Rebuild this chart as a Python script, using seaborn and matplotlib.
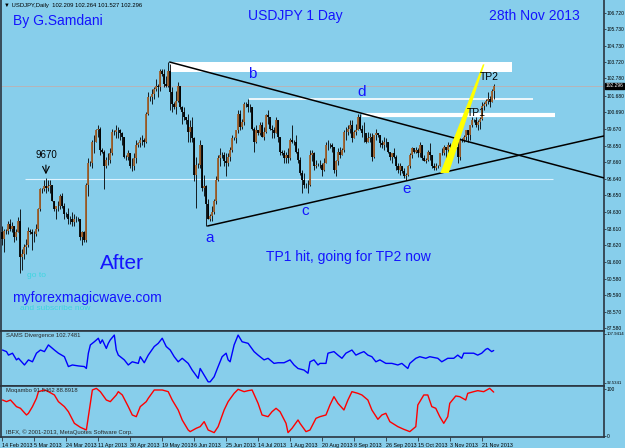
import matplotlib
matplotlib.use("Agg")
import matplotlib.pyplot as plt
import seaborn as sns
import numpy as np
import pandas as pd

# ---------------------------------------------------------------------------
# data (USDJPY daily, one bar per day incl. sunday bars)
# ---------------------------------------------------------------------------
first_open = 93.4
highs = [93.8, 93.6, 93.6, 94.1, 94.2, 94.0, 93.8, 93.6, 94.3, 94.8,
         92.4, 92.7, 93.0, 93.7, 93.6, 93.6, 93.5, 93.9, 94.9, 96.1,
         96.1, 96.6, 96.7, 96.6, 96.6, 96.3, 95.3, 95.0, 95.3, 95.7,
         95.8, 95.2, 94.6, 94.9, 94.4, 94.6, 94.5, 94.4, 94.3, 94.2,
         93.5, 93.5, 96.4, 97.9, 97.7, 99.0, 99.3, 99.7, 99.9, 99.8,
         98.5, 98.4, 98.0, 98.2, 98.5, 99.7, 99.6, 99.9, 99.8, 99.7,
         99.5, 99.2, 98.1, 98.4, 98.2, 97.9, 98.2, 99.0, 98.9, 99.2,
         99.3, 99.1, 100.7, 101.9, 101.7, 102.1, 102.2, 102.7, 102.4, 103.3,
         103.3, 103.3, 102.9, 103.74, 103.6, 102.2, 101.3, 102.0, 102.5, 102.3,
         101.1, 101.0, 100.4, 100.6, 100.2, 100.4, 99.2, 98.0, 97.6, 99.0,
         98.7, 96.9, 96.3, 95.4, 94.5, 95.0, 95.4, 96.8, 98.1, 98.5,
         98.3, 98.3, 98.2, 98.2, 98.6, 99.3, 99.2, 99.6, 100.8, 100.8,
         100.3, 101.3, 101.3, 101.5, 101.2, 101.0, 99.8, 99.9, 99.6, 100.1,
         100.1, 99.8, 100.6, 100.8, 100.2, 99.9, 99.8, 100.4, 100.2, 99.2,
         98.4, 98.4, 98.3, 98.5, 99.1, 99.9, 99.0, 99.3, 98.5, 98.0,
         97.2, 97.0, 96.4, 96.6, 98.4, 98.4, 98.3, 97.8, 97.6, 97.8,
         97.6, 97.9, 98.9, 99.0, 98.8, 98.8, 98.6, 97.8, 98.5, 98.6,
         98.5, 99.6, 99.8, 99.9, 100.2, 100.2, 99.6, 100.0, 100.6, 100.6,
         99.9, 100.1, 99.3, 99.5, 99.4, 99.4, 99.3, 99.7, 99.4, 99.3,
         99.0, 99.2, 99.1, 98.9, 98.3, 98.2, 98.5, 98.1, 97.6, 97.6,
         97.4, 97.3, 97.0, 97.5, 98.2, 98.6, 98.4, 98.6, 98.5, 98.9,
         98.7, 98.1, 97.9, 98.4, 98.8, 98.1, 97.6, 97.6, 97.5, 98.2,
         98.5, 98.7, 98.5, 98.9, 98.8, 98.8, 98.8, 98.8, 99.0, 99.1,
         99.1, 99.3, 99.6, 99.6, 99.9, 100.4, 100.3, 100.4, 100.2, 100.4,
         101.3, 101.3, 101.5, 101.9, 101.7, 102.1, 102.4]
lows = [92.6, 92.2, 93.3, 93.3, 93.5, 93.4, 92.8, 92.9, 93.4, 90.9,
        91.1, 91.8, 92.1, 92.5, 93.3, 92.3, 92.8, 93.2, 93.5, 94.7,
        95.8, 95.9, 95.8, 95.9, 95.8, 95.3, 94.7, 94.2, 94.7, 94.8,
        94.9, 94.2, 94.3, 93.9, 93.9, 93.8, 93.8, 94.0, 94.1, 92.9,
        92.6, 92.8, 92.8, 95.6, 97.4, 97.3, 98.2, 98.9, 99.2, 98.1,
        98.2, 96.0, 97.3, 97.5, 97.6, 98.1, 99.3, 99.1, 99.1, 99.0,
        98.7, 97.9, 97.8, 97.8, 97.3, 97.1, 97.2, 97.6, 98.6, 98.6,
        98.7, 98.6, 98.8, 100.5, 101.4, 101.2, 101.5, 102.0, 101.6, 102.0,
        102.9, 102.2, 102.2, 102.2, 100.8, 100.7, 100.9, 100.6, 101.3, 100.9,
        100.0, 100.2, 100.0, 98.9, 98.9, 98.9, 96.5, 94.9, 97.3, 97.3,
        95.9, 95.6, 93.78, 94.2, 94.1, 94.1, 94.5, 95.1, 96.5, 97.4,
        97.9, 97.4, 96.8, 97.4, 97.7, 98.3, 99.0, 98.8, 99.4, 99.6,
        99.7, 99.9, 101.0, 100.7, 100.7, 99.6, 98.3, 98.8, 99.3, 99.3,
        99.2, 99.0, 99.4, 100.0, 99.6, 99.1, 99.1, 99.4, 98.9, 98.1,
        98.1, 97.6, 97.6, 97.6, 97.8, 98.8, 98.7, 98.2, 97.6, 96.9,
        95.8, 96.1, 96.1, 95.8, 96.2, 97.7, 97.2, 97.3, 97.4, 97.3,
        96.8, 97.1, 97.6, 98.4, 98.5, 98.3, 97.0, 96.8, 97.5, 97.9,
        98.1, 98.3, 99.0, 99.3, 99.4, 98.9, 99.1, 99.3, 99.6, 99.6,
        99.2, 98.9, 98.8, 98.9, 98.9, 97.7, 97.9, 99.0, 99.2, 98.6,
        98.5, 98.4, 98.6, 98.2, 97.8, 97.6, 97.9, 97.2, 97.0, 96.9,
        97.0, 96.7, 96.57, 96.8, 97.3, 97.9, 98.2, 98.2, 98.0, 98.0,
        97.8, 97.7, 97.6, 97.7, 97.8, 97.3, 97.2, 97.2, 97.3, 97.4,
        98.1, 98.1, 97.7, 98.2, 98.5, 98.3, 98.2, 98.5, 97.6, 97.8,
        98.9, 98.9, 99.0, 98.9, 99.0, 99.8, 100.1, 99.8, 99.6, 99.7,
        100.2, 100.8, 101.1, 101.2, 101.0, 101.3, 101.5]
closes = [93.0, 93.5, 93.5, 93.9, 93.6, 93.8, 93.1, 93.4, 94.1, 91.9,
          92.1, 92.5, 92.6, 93.5, 93.4, 93.3, 93.3, 93.6, 94.8, 96.0,
          96.0, 96.2, 96.1, 96.2, 96.3, 95.3, 94.8, 95.0, 95.0, 95.6,
          95.0, 94.5, 94.5, 94.2, 94.2, 94.0, 94.2, 94.2, 94.2, 93.1,
          93.4, 92.9, 96.3, 97.6, 97.6, 98.9, 98.9, 99.6, 99.7, 98.4,
          98.3, 97.4, 97.8, 97.8, 98.2, 99.5, 99.5, 99.6, 99.6, 99.4,
          99.2, 98.0, 98.0, 98.2, 97.4, 97.4, 97.9, 98.7, 98.8, 99.0,
          99.0, 98.9, 100.6, 101.6, 101.6, 101.8, 102.1, 102.3, 102.2, 103.2,
          103.0, 102.4, 102.3, 103.2, 101.9, 101.2, 101.0, 101.4, 102.3, 101.0,
          100.7, 100.4, 100.2, 99.5, 99.8, 99.1, 96.9, 97.5, 97.5, 98.7,
          96.1, 96.2, 95.1, 94.2, 94.4, 94.6, 95.3, 96.6, 97.9, 98.1,
          98.1, 97.7, 97.6, 98.0, 98.4, 99.1, 99.1, 99.6, 100.6, 99.8,
          100.1, 101.2, 101.2, 101.0, 101.0, 99.7, 98.9, 99.6, 99.4, 99.9,
          99.2, 99.5, 100.5, 100.4, 99.7, 99.6, 99.4, 100.2, 99.2, 98.3,
          98.2, 97.9, 98.1, 97.9, 99.0, 98.9, 98.9, 98.3, 97.8, 97.0,
          96.6, 96.3, 96.3, 96.3, 98.1, 98.2, 97.4, 97.5, 97.5, 97.5,
          97.2, 97.6, 98.7, 98.7, 98.7, 98.6, 97.2, 97.7, 98.3, 98.1,
          98.4, 99.5, 99.5, 99.7, 99.9, 99.1, 99.5, 99.6, 100.4, 99.7,
          99.4, 99.4, 98.9, 99.1, 99.2, 98.0, 99.3, 99.4, 99.3, 98.8,
          98.7, 98.9, 98.9, 98.3, 98.0, 98.2, 98.0, 97.4, 97.2, 97.4,
          97.1, 96.8, 96.9, 97.4, 98.1, 98.5, 98.3, 98.4, 98.2, 98.7,
          97.9, 97.7, 97.8, 98.3, 98.1, 97.4, 97.3, 97.4, 97.4, 98.2,
          98.2, 98.6, 98.4, 98.7, 98.6, 98.5, 98.6, 98.6, 98.0, 99.0,
          99.0, 99.2, 99.6, 99.3, 99.9, 100.2, 100.2, 99.9, 100.1, 100.3,
          101.1, 101.2, 101.4, 101.5, 101.3, 102.0, 102.3]
last_price = 102.296

date_ticks = [0, 16, 32, 48, 64, 80, 96, 112, 128, 144, 160, 176, 192, 208, 224, 240]
date_labels = ["14 Feb 2013", "5 Mar 2013", "24 Mar 2013", "11 Apr 2013", "30 Apr 2013",
               "19 May 2013", "6 Jun 2013", "25 Jun 2013", "14 Jul 2013", "1 Aug 2013",
               "20 Aug 2013", "8 Sep 2013", "26 Sep 2013", "15 Oct 2013", "3 Nov 2013",
               "21 Nov 2013"]
price_ticks = [106.72, 105.73, 104.73, 103.72, 102.78, 101.68, 100.69, 99.67, 98.65,
               97.66, 96.64, 95.65, 94.63, 93.61, 92.62, 91.60, 90.58, 89.59, 88.57, 87.58]

# SAMS Divergence (blue)
sams_bar = [0, 2, 3, 5, 7, 8, 11, 13, 15, 17, 19, 21, 23, 26, 28, 31, 33, 35, 38, 41,
            42, 43, 44, 46, 48, 49, 50, 52, 53, 54, 56, 57, 58, 61, 63, 65, 68, 69, 71, 73,
            76, 78, 80, 82, 84, 86, 88, 90, 93, 95, 98, 99, 101, 103, 104, 106, 108, 110, 112, 113,
            114, 116, 118, 120, 123, 126, 128, 131, 133, 136, 138, 141, 144, 146, 148, 151, 153, 154, 156, 158,
            159, 162, 163, 166, 168, 170, 172, 175, 177, 179, 181, 183, 185, 187, 189, 192, 195, 198, 200, 203,
            204, 207, 209, 212, 214, 218, 220, 223, 226, 228, 230, 231, 233, 236, 238, 240, 242, 243, 245, 246]
sams_val = [102.9, 102.4, 101.3, 101.9, 99.8, 100.3, 98.2, 99.8, 99.2, 101.9,
            102.9, 102.4, 104.5, 102.9, 101.9, 100.8, 97.7, 98.2, 97.9, 97.7,
            97.1, 101.9, 104.5, 105.5, 106.6, 105.0, 106.1, 103.4, 105.0, 106.1,
            107.6, 102.9, 101.3, 99.8, 98.2, 99.2, 98.7, 100.8, 98.9, 101.3,
            104.0, 105.0, 106.6, 104.0, 102.9, 100.8, 99.2, 100.3, 98.7, 96.6,
            94.0, 97.1, 95.0, 92.9, 92.9, 94.5, 97.7, 100.8, 101.9, 99.8,
            99.2, 104.5, 107.6, 105.5, 105.0, 102.4, 101.3, 99.8, 100.3, 98.7,
            98.9, 98.9, 99.8, 98.2, 97.1, 96.6, 95.6, 99.2, 99.8, 98.2,
            98.7, 98.7, 101.9, 102.4, 101.3, 100.3, 101.9, 102.9, 101.3, 101.9,
            102.4, 101.3, 100.8, 99.2, 99.8, 98.7, 98.7, 98.2, 98.7, 97.1,
            98.7, 100.3, 100.8, 100.3, 100.8, 100.3, 99.2, 100.3, 100.3, 101.3,
            100.3, 101.9, 101.9, 101.9, 101.3, 101.9, 103.1, 103.4, 102.4, 102.75]

# Moqambo (red)
moq_bar = [0, 2, 4, 7, 9, 12, 13, 15, 17, 18, 21, 23, 26, 28, 31, 33, 36, 39, 42, 43,
           45, 47, 49, 52, 54, 57, 58, 60, 63, 65, 67, 69, 72, 73, 76, 80, 83, 85, 88, 90,
           93, 94, 97, 99, 101, 103, 106, 108, 111, 113, 116, 118, 121, 123, 125, 128, 130, 133, 135, 137,
           139, 142, 143, 145, 148, 149, 152, 154, 157, 159, 162, 164, 166, 168, 171, 173, 175, 178, 180, 183,
           185, 188, 190, 192, 194, 198, 201, 204, 207, 208, 211, 213, 215, 217, 219, 221, 223, 224, 227, 229,
           232, 233, 236, 238, 241, 244, 246]
moq_val = [75.0, 71.6, 75.0, 61.2, 57.7, 43.8, 47.3, 61.2, 78.5, 92.4,
           95.9, 92.4, 85.5, 71.6, 61.2, 50.7, 26.4, 18.1, 12.5, 40.3,
           95.9, 99.3, 92.4, 75.0, 71.6, 85.5, 92.4, 85.5, 61.2, 43.8,
           40.3, 61.2, 71.6, 78.5, 95.9, 95.9, 92.4, 75.0, 54.2, 33.4,
           12.5, 9.1, 16.0, 19.5, 29.9, 12.5, 7.0, 19.5, 54.2, 71.6,
           88.9, 97.3, 92.4, 94.5, 95.9, 68.1, 43.8, 40.3, 50.7, 57.7,
           50.7, 26.4, 7.0, 16.0, 33.4, 26.4, 9.1, 12.5, 36.8, 40.3,
           43.8, 64.6, 82.0, 68.1, 54.2, 75.0, 92.4, 88.9, 85.5, 75.0,
           54.2, 34.8, 43.8, 47.3, 29.9, 19.5, 13.9, 9.1, 19.5, 64.6,
           85.5, 85.5, 61.2, 57.7, 40.3, 26.4, 40.3, 68.1, 83.4, 82.0,
           75.0, 88.9, 92.4, 94.5, 92.4, 99.3, 91.5]

# annotation geometry (bar index, price)
upper_x, upper_y = [83.75, 301.25], [103.74, 96.70]
lower_x, lower_y = [102.75, 301.25], [93.78, 99.25]
yellow_x = [219.25, 223.5, 241.4, 240.6]
yellow_y = [97.0, 97.0, 103.6, 103.6]

# ---------------------------------------------------------------------------
BG = "#87CEEB"
BLUE = "#1414ff"
EDGE = "#2a3540"
AXFS = 3.9   # tiny terminal-style axis font
YFS = 3.5    # right-hand price scale

sns.set_theme(style="ticks", rc={"axes.facecolor": BG, "figure.facecolor": BG})
plt.rcParams["font.family"] = ["Liberation Sans", "DejaVu Sans"]

df = pd.DataFrame({"bar": np.arange(len(closes)), "high": highs, "low": lows, "close": closes})
df["open"] = [first_open] + closes[:-1]
bull = df["close"] >= df["open"]

W, H = 625, 448
fig = plt.figure(figsize=(6.25, 4.48), dpi=100)
ax = fig.add_axes([1 / W, (H - 331) / H, 603 / W, 331 / H])
ax2 = fig.add_axes([1 / W, (H - 386) / H, 603 / W, 55 / H])
ax3 = fig.add_axes([1 / W, (H - 437) / H, 603 / W, 51 / H])

XL = (-0.75, 301.25)
for a in (ax, ax2, ax3):
    a.set_xlim(*XL)
    a.set_facecolor(BG)
    for s in a.spines.values():
        s.set_color(EDGE)
        s.set_linewidth(1.2)
    a.yaxis.tick_right()
    a.tick_params(axis="y", direction="out", length=1.5, width=0.6, colors=EDGE,
                  labelsize=YFS, labelcolor="black", pad=0.5)
    a.set_xticks([])
ax.spines["top"].set_visible(False)

# ---- main price panel -----------------------------------------------------
ax.set_ylim(87.40, 107.51)
ax.set_yticks(price_ticks)
ax.set_yticklabels([f"{p:.3f}" for p in price_ticks])

ax.axhline(last_price, color="#bfb0b0", lw=0.6, zorder=1)
ax.hlines(96.63, 11.25, 275.75, color="#dff3ff", lw=0.8, zorder=1)
ax.fill_between([83.75, 255.25], 103.13, 103.74, color="white", lw=0, zorder=1)
ax.hlines(101.5, 123.25, 265.75, color="white", lw=1.2, zorder=1)
ax.hlines(100.52, 180.25, 276.75, color="white", lw=3, zorder=1)

ax.vlines(df["bar"], df["low"], df["high"], color="black", lw=0.6, zorder=3)
ax.vlines(df["bar"][bull], df["open"][bull], df["close"][bull], color="#a0602a", lw=1.3, zorder=4)
ax.vlines(df["bar"][~bull], df["open"][~bull], df["close"][~bull], color="black", lw=1.3, zorder=4)

ax.plot(upper_x, upper_y, color="black", lw=1.1, zorder=5)
ax.plot(lower_x, lower_y, color="black", lw=1.1, zorder=5)
ax.fill(yellow_x, yellow_y, color="#ffff00", lw=0, zorder=6)

ax.text(0.75, 107.2, "\u25bc USDJPY,Daily  102.209 102.264 101.527 102.296", fontsize=4.2,
        va="center", ha="left", color="black")
ax.text(27.75, 106.23, "By G.Samdani", fontsize=10, color=BLUE, ha="center", va="center")
ax.text(146.75, 106.54, "USDJPY 1 Day", fontsize=10, color=BLUE, ha="center", va="center")
ax.text(266.25, 106.54, "28th Nov 2013", fontsize=10, color=BLUE, ha="center", va="center")
for lab, bx, py in [("a", 103.75, 93.05), ("b", 125.25, 103.01), ("c", 151.75, 94.69),
                    ("d", 179.75, 101.92), ("e", 202.25, 96.03)]:
    ax.text(bx, py, lab, fontsize=11, color=BLUE, ha="center", va="center", zorder=7)
ax.text(21.75, 98.09, "9670", fontsize=7, color="black", ha="center", va="center")
ax.annotate("", xy=(21.75, 96.75), xytext=(21.75, 97.65),
            arrowprops=dict(arrowstyle="->", color="black", lw=0.8))
ax.text(243.75, 102.83, "TP2", fontsize=7.5, color="black", ha="center", va="center", zorder=7)
ax.text(237.25, 100.64, "TP1", fontsize=7.5, color="black", ha="center", va="center", zorder=7)
ax.text(59.75, 91.53, "After", fontsize=15, color=BLUE, ha="center", va="center")
ax.text(173.25, 91.9, "TP1 hit, going for TP2 now", fontsize=10, color=BLUE, ha="center", va="center")
ax.text(42.25, 89.4, "myforexmagicwave.com", fontsize=10, color=BLUE, ha="center", va="center")
ax.text(17.25, 90.8, "go to", fontsize=6, color="#3fd5e0", ha="center", va="center")
ax.text(26.25, 88.74, "and subscribe now", fontsize=6, color="#3fd5e0", ha="center", va="center")

ax.text(1.003, last_price, f"{last_price:.3f}", transform=ax.get_yaxis_transform(),
        fontsize=YFS, color="white", ha="left", va="center",
        bbox=dict(boxstyle="square,pad=0.15", fc="black", ec="black"))

# ---- SAMS Divergence --------------------------------------------------------
sns.lineplot(x=sams_bar, y=sams_val, ax=ax2, color="#0000ff", lw=1.0)
ax2.set_ylim(91.59, 108.88)
ax2.set_yticks([107.9414, 92.5341])
ax2.set_yticklabels(["107.9414", "92.5341"])
ax2.tick_params(axis="y", labelsize=3.1)
ax2.text(2, 107.6, "SAMS Divergence 102.7481", fontsize=4.2, va="center", ha="left")

# ---- Moqambo ---------------------------------------------------------------
sns.lineplot(x=moq_bar, y=moq_val, ax=ax3, color="#ff0000", lw=1.0)
ax3.set_ylim(-2.1, 104.2)
ax3.set_yticks([97, 0])
ax3.set_yticklabels(["100", "0"])
ax3.text(2, 94, "Moqambo 91.5462 88.8918", fontsize=4.2, va="center", ha="left")
ax3.text(2, 8, "IBFX, \u00a9 2001-2013, MetaQuotes Software Corp.", fontsize=4.2, va="center", ha="left")
ax3.set_xticks(date_ticks)
ax3.set_xticklabels(date_labels)
ax3.tick_params(axis="x", direction="out", length=3, width=0.6, colors=EDGE,
                labelsize=AXFS, labelcolor="black", pad=1)
for t in ax3.get_xticklabels():
    t.set_ha("left")

for a in (ax, ax2, ax3):
    a.set_xlabel("")
    a.set_ylabel("")
    a.grid(False)

fig.savefig("out.png", dpi=100, facecolor=BG)
